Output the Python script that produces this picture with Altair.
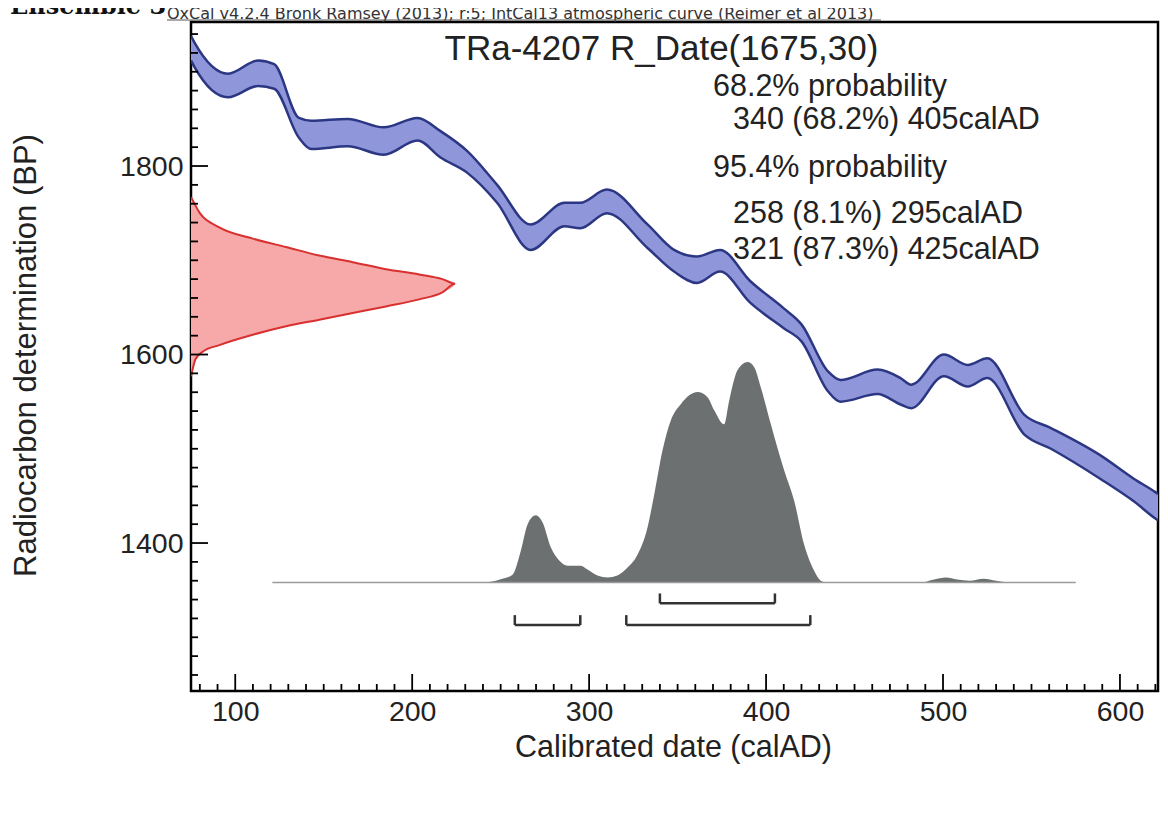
import altair as alt
import pandas as pd

# ---------------- data ----------------
# IntCal13 1-sigma envelope (calAD, upper BP, lower BP)
curve_ad = [75, 77, 96, 113, 122, 136, 143, 163.5, 184, 203,
            216, 231, 248, 267, 286, 295, 310, 333, 348, 361,
            374, 391, 410, 420, 435, 442, 463, 476, 482, 500.5,
            514, 525, 546, 561, 589, 608, 620, 621.5]
curve_hi = [1938, 1931, 1898, 1912, 1908, 1851, 1848, 1850, 1841, 1851,
            1837, 1816, 1780, 1738, 1761, 1761, 1775, 1738, 1711, 1704,
            1711, 1678, 1649, 1632, 1582, 1573, 1584, 1575, 1568, 1600,
            1589, 1596, 1536, 1522, 1493, 1468, 1454, 1452]
curve_lo = [1912, 1905, 1873, 1885, 1882, 1830, 1818, 1821, 1812, 1827,
            1809, 1793, 1761, 1711, 1736, 1734, 1750, 1713, 1688, 1676,
            1688, 1655, 1628, 1614, 1561, 1550, 1558, 1547, 1543, 1577,
            1566, 1575, 1515, 1500, 1468, 1444, 1426, 1424]

# Radiocarbon measurement likelihood (BP, extent in calAD units from the axis)
rdate_bp = [1767, 1760, 1750, 1735, 1723, 1714, 1705, 1698, 1690.5, 1685, 1680,
            1675, 1666, 1658.5, 1651, 1644, 1637, 1630, 1621, 1610, 1603,
            1595, 1585, 1577]
rdate_val = [75, 77, 80, 91, 110, 128.7, 147.5, 166.4, 185.2, 204, 217.1,
             224.3, 217.1, 204, 185.2, 166.4, 147.5, 128.7, 109.9, 91, 81.6,
             77.5, 76, 75]

# Calibrated probability distribution (calAD, relative probability)
post_ad = [121, 238.8, 250.1, 256.7, 261.4, 265.2, 269.9, 273.7, 278.4, 283.1,
           287.8, 295.3, 299.1, 304.7, 310.4, 316.0, 321.7, 327.4, 333.0, 336.8,
           341.5, 346.2, 351.8, 361.3, 366.9, 370.7, 376.3, 379.2, 383.9, 389.5,
           393.3, 397.0, 402.7, 410.2, 415.8, 421.5, 427.1, 430.9, 434.6, 487,
           495, 501.6, 508, 515, 523, 530, 540, 575]
post_p = [0, 0, 0.015, 0.036, 0.145, 0.264, 0.305, 0.273, 0.159, 0.100,
          0.077, 0.077, 0.059, 0.032, 0.023, 0.032, 0.068, 0.127, 0.250, 0.400,
          0.600, 0.736, 0.809, 0.864, 0.841, 0.782, 0.718, 0.827, 0.964, 1.0,
          0.977, 0.886, 0.718, 0.509, 0.373, 0.173, 0.055, 0.009, 0, 0,
          0.014, 0.023, 0.014, 0.009, 0.018, 0.009, 0, 0]

# Calibrated ranges
r68_from, r68_to = [340], [405]
r95_from, r95_to = [258, 321], [295, 425]

title_text = "TRa-4207 R_Date(1675,30)"
prob_lines = ["68.2% probability", "340 (68.2%) 405calAD", "95.4% probability",
              "258 (8.1%) 295calAD", "321 (87.3%) 425calAD"]
header_text = "OxCal v4.2.4 Bronk Ramsey (2013); r:5; IntCal13 atmospheric curve (Reimer et al 2013)"
corner_text = "Ensemble 3"

x_major = [100, 200, 300, 400, 500, 600]
x_minor = [v for v in range(80, 621, 10) if v % 100 != 0]
y_major = [1400, 1600, 1800]
y_minor = [v for v in range(1260, 1953, 20) if v % 200 != 0]

# ---------------- layout / style ----------------
W, H = 967, 669
X_DOMAIN = [75, 621.5]
Y_DOMAIN = [1243, 1952.8]
HIST_BASE, HIST_SCALE = 1358, 234
BR68_Y, BR95_Y, BR_TICK = 1336, 1313, 10.5
FONT = "Liberation Sans"
TXT = "#222222"

xs = alt.Scale(domain=X_DOMAIN, nice=False, zero=False)
ys = alt.Scale(domain=Y_DOMAIN, nice=False, zero=False)

curve = pd.DataFrame({"ad": curve_ad, "hi": curve_hi, "lo": curve_lo})
rdate = pd.DataFrame({"bp": rdate_bp, "val": rdate_val})
rdate["base"] = X_DOMAIN[0]
post = pd.DataFrame({"ad": post_ad, "p": post_p})
post["top"] = HIST_BASE + post["p"] * HIST_SCALE
post["base"] = HIST_BASE

x_axis = alt.Axis(values=x_major, format="d", ticks=False, tickSize=0, domain=False, grid=False,
                  labelPadding=6, labelFont=FONT, labelFontSize=28.5, labelColor=TXT,
                  title="Calibrated date (calAD)", titleFont=FONT, titleFontSize=30.5,
                  titleFontWeight="normal", titleColor=TXT, titleX=482, titleY=65,
                  titleBaseline="alphabetic", titleAlign="center")
y_axis = alt.Axis(values=y_major, format="d", ticks=False, tickSize=0, domain=False, grid=False,
                  labelPadding=8, labelFont=FONT, labelFontSize=28.5, labelColor=TXT,
                  title="Radiocarbon determination (BP)", titleFont=FONT, titleFontSize=31,
                  titleFontWeight="normal", titleColor=TXT, titleX=-165, titleY=333,
                  titleBaseline="middle", titleAlign="center")


def X(field):
    return alt.X(field, scale=xs, axis=x_axis)


def Y(field):
    return alt.Y(field, scale=ys, axis=y_axis)


band = alt.Chart(curve).mark_area(interpolate="monotone", color="#9096da", clip=True).encode(
    x=X("ad:Q"), y=Y("hi:Q"), y2="lo:Q")
band_hi = alt.Chart(curve).mark_line(interpolate="monotone", color="#2c3784", strokeWidth=2.5, clip=True).encode(
    x=X("ad:Q"), y=Y("hi:Q"))
band_lo = alt.Chart(curve).mark_line(interpolate="monotone", color="#2c3784", strokeWidth=2.5, clip=True).encode(
    x=X("ad:Q"), y=Y("lo:Q"))

red_area = alt.Chart(rdate).mark_area(orient="horizontal", interpolate="monotone", color="#f7a8a8", clip=True).encode(
    y=Y("bp:Q"), x=X("val:Q"), x2="base:Q")
red_line = alt.Chart(rdate).mark_line(interpolate="monotone", color="#d8302f", strokeWidth=2, clip=True).encode(
    y=Y("bp:Q"), x=X("val:Q"), order=alt.Order("bp:Q"))

hist = alt.Chart(post).mark_area(interpolate="monotone", color="#6c7070").encode(
    x=X("ad:Q"), y=Y("top:Q"), y2="base:Q")
hist_base = alt.Chart(pd.DataFrame({"a": [min(post_ad)], "b": [max(post_ad)], "y": [HIST_BASE]})).mark_rule(
    color="#9a9a9a", strokeWidth=1.5).encode(x=X("a:Q"), x2="b:Q", y=Y("y:Q"))


def brackets(froms, tos, yv):
    d = pd.DataFrame({"f": froms, "t": tos})
    d["y"] = yv
    d["y2"] = yv + BR_TICK
    base = alt.Chart(d)
    bar = base.mark_rule(color="#333333", strokeWidth=2.5).encode(x=X("f:Q"), x2="t:Q", y=Y("y:Q"))
    left = base.mark_rule(color="#333333", strokeWidth=2.5).encode(x=X("f:Q"), y=Y("y:Q"), y2="y2:Q")
    right = base.mark_rule(color="#333333", strokeWidth=2.5).encode(x=X("t:Q"), y=Y("y:Q"), y2="y2:Q")
    return [bar, left, right]


def xticks(vals, length):
    return alt.Chart(pd.DataFrame({"v": vals})).mark_rule(color="black", strokeWidth=1.8).encode(
        x=X("v:Q"), y=alt.value(H), y2=alt.value(H - length))


def yticks(vals, length):
    return alt.Chart(pd.DataFrame({"v": vals})).mark_rule(color="black", strokeWidth=1.8).encode(
        y=Y("v:Q"), x=alt.value(0), x2=alt.value(length))


dummy = pd.DataFrame({"d": [0]})


def label(text, px, py, size, align="left", font=FONT, weight="normal", color=TXT):
    return alt.Chart(dummy).mark_text(align=align, baseline="alphabetic", font=font, fontSize=size,
                                      fontWeight=weight, color=color).encode(
        x=alt.value(px), y=alt.value(py), text=alt.value(text))


line_x = [522, 542, 522, 542, 542]
line_y = [73.5, 106.5, 154.5, 200.5, 236.5]
texts = [label(t, x, y, 30.5) for t, x, y in zip(prob_lines, line_x, line_y)]
texts.append(label(title_text, 470.5, 38, 35, align="center"))
texts.append(label(header_text, -24, -3, 16, font="DejaVu Sans", color="#333333"))
texts.append(label(corner_text, -181, -8, 24, font="DejaVu Serif", weight="bold", color="#111111"))

header_rule = alt.Chart(dummy).mark_rule(color="#555555", strokeWidth=1).encode(
    x=alt.value(-24), x2=alt.value(690), y=alt.value(-2))

layers = [band, band_hi, band_lo, red_area, red_line, hist, hist_base]
layers += brackets(r68_from, r68_to, BR68_Y)
layers += brackets(r95_from, r95_to, BR95_Y)
layers += [xticks(x_minor, 7), xticks(x_major, 17), yticks(y_minor, 7), yticks(y_major, 17)]
layers += texts + [header_rule]

chart = alt.layer(*layers).properties(
    width=W, height=H,
    padding={"left": 183, "top": 14, "right": 2, "bottom": 110},
    autosize=alt.AutoSizeParams(type="none"),
    background="white",
).configure_view(stroke="black", strokeWidth=2.5)

chart.save("out.html", embed_options={"renderer": "svg", "actions": False})
